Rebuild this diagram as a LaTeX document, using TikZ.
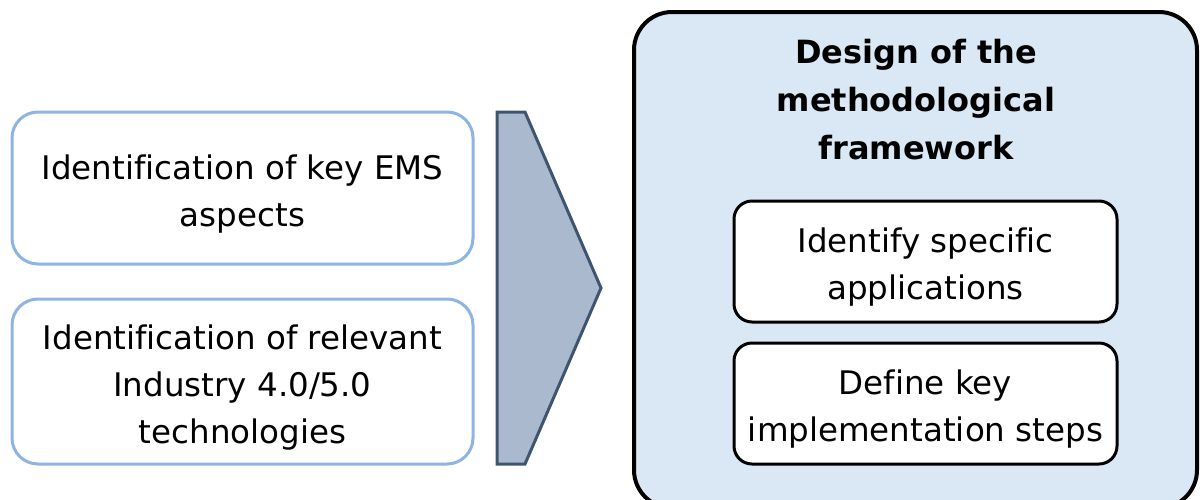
\documentclass[tikz,border=0pt]{standalone}
\usepackage{fontspec}
\setmainfont[Ligatures={NoCommon}]{DejaVu Sans}
\definecolor{lblue}{HTML}{8EB4E3}
\definecolor{arrowfill}{HTML}{AAB9CD}
\definecolor{arrowline}{HTML}{3E5570}
\definecolor{bigfill}{HTML}{DAE8F5}
\tikzset{
  leftbox/.style={draw=lblue, line width=3pt, fill=white, rounded corners=26pt,
    minimum width=461pt, inner sep=0pt, outer sep=0pt},
  bigbox/.style={draw=black, line width=4pt, fill=bigfill, rounded corners=38pt,
    minimum width=563pt, minimum height=496pt, inner sep=0pt, outer sep=0pt},
  innerbox/.style={draw=black, line width=3pt, fill=white, rounded corners=18pt,
    minimum width=383pt, minimum height=121pt, inner sep=0pt, outer sep=0pt},
  boxtext/.style={align=center, inner sep=0pt, yshift=-6pt,
    font=\fontsize{32.5}{47}\selectfont},
  titletext/.style={align=center, inner sep=0pt, font=\bfseries\fontsize{32}{48}\selectfont},
  chevron/.style={draw=arrowline, fill=arrowfill, line width=3pt, line join=miter}
}
\begin{document}
\begin{tikzpicture}[x=1pt,y=-1pt]
\useasboundingbox (0,0) rectangle (1200,499);
\node[leftbox, minimum height=152pt] (b1) at (242.5,188) {};
\node[boxtext] (t1) at (b1.center) {Identification of key EMS\\aspects};
\node[leftbox, minimum height=165pt] (b2) at (242.5,381.5) {};
\node[boxtext] (t2) at (b2.center) {Identification of relevant\\Industry 4.0/5.0\\technologies};
\draw[chevron] (497,112) -- (525,112) -- (601,288) -- (525,464) -- (497,464) -- cycle;
\node[bigbox] (big) at (915.5,260) {};
\node[titletext] (title) at (916,100) {Design of the\\methodological\\framework};
\node[innerbox] (i1) at (925.5,261.5) {};
\node[boxtext] (ti1) at (i1.center) {Identify specific\\applications};
\node[innerbox] (i2) at (925.5,403.5) {};
\node[boxtext] (ti2) at (i2.center) {Define key\\implementation steps};
\end{tikzpicture}
\end{document}
